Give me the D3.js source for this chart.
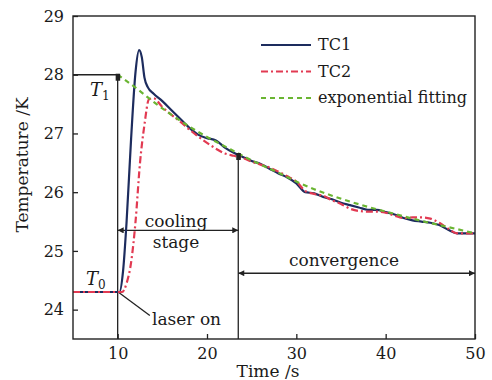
<!DOCTYPE html>
<html>
<head>
<meta charset="utf-8">
<script src="https://cdn.jsdelivr.net/npm/d3@7"></script>
<style>
  body { margin: 0; background: #fff; }
  text { font-family: "DejaVu Serif", "Liberation Serif", serif; fill: #1a1a1a; }
</style>
</head>
<body>
<svg id="chart" width="492" height="380"></svg>
<script>
// values: [time s, temperature K]
var tc1 = [[5,24.3],[10.2,24.3],[10.6,24.65],[11,25.5],[11.5,26.9],[12,28.05],[12.4,28.42],[12.7,28.3],[13,27.95],[13.4,27.78],
  [14,27.68],[15,27.55],[16,27.4],[17,27.25],[18,27.1],[19,26.98],[20,26.92],[21,26.88],[22,26.76],[23,26.67],[24,26.6],
  [25,26.53],[26,26.48],[27,26.4],[28,26.32],[29,26.25],[30,26.15],[31,26.0],[32,25.98],[33,25.92],[34,25.88],[35,25.82],
  [36,25.78],[37,25.74],[38,25.7],[39,25.7],[40,25.66],[41,25.62],[42,25.56],[43,25.52],[44,25.5],[45,25.48],[46,25.44],
  [47,25.36],[48,25.3],[49,25.3],[50,25.3]];
var tc2 = [[5,24.3],[10.5,24.3],[11,24.45],[11.5,24.8],[12,25.5],[12.5,26.5],[13,27.15],[13.5,27.58],[14,27.6],[15,27.45],
  [16,27.32],[17,27.2],[18,27.07],[19,26.95],[20,26.84],[21,26.74],[22,26.66],[23,26.62],[24,26.58],[25,26.52],[26,26.47],
  [27,26.42],[28,26.35],[29,26.27],[30,26.18],[31,26.02],[32,25.97],[33,25.94],[34,25.86],[35,25.8],[36,25.72],[37,25.68],
  [38,25.67],[39,25.67],[40,25.65],[41,25.6],[42,25.56],[43,25.57],[44,25.57],[45,25.55],[46,25.48],[47,25.38],[48,25.3],
  [49,25.3],[50,25.3]];
var fit = [[10,28.0],[12,27.78],[14,27.54],[16,27.32],[18,27.12],[20,26.94],[22,26.78],[24,26.62],[26,26.47],[28,26.33],
  [30,26.18],[32,26.05],[34,25.94],[36,25.84],[38,25.75],[40,25.67],[42,25.59],[44,25.51],[46,25.44],[48,25.37],[50,25.3]];
var xTicks = [10, 20, 30, 40, 50];
var yTicks = [24, 25, 26, 27, 28, 29];
var legendNames = ["TC1", "TC2", "exponential fitting"];

var svg = d3.select("#chart");
var x = d3.scaleLinear().domain([5, 50]).range([73, 475]);
var y = d3.scaleLinear().domain([23.5, 29]).range([339, 16]);

var colors = ["#1d2c5e", "#e23a52", "#6ab532"];
var dashes = [null, "7,3,2,3", "5,4"];

// arrow heads
var defs = svg.append("defs");
defs.append("marker").attr("id","ah").attr("viewBox","0 0 10 10").attr("refX",10).attr("refY",5)
  .attr("markerWidth",9).attr("markerHeight",6).attr("orient","auto-start-reverse").attr("markerUnits","userSpaceOnUse")
  .append("path").attr("d","M0,0L10,5L0,10Z").attr("fill","#222");

// axes (ticks inward)
var gx = svg.append("g").attr("transform","translate(0,339)")
  .call(d3.axisBottom(x).tickValues(xTicks).tickFormat(d3.format("d")).tickSize(-5).tickSizeOuter(0).tickPadding(9));
var gy = svg.append("g").attr("transform","translate(73,0)")
  .call(d3.axisLeft(y).tickValues(yTicks).tickFormat(d3.format("d")).tickSize(-5).tickSizeOuter(0).tickPadding(9));
[gx, gy].forEach(function(g){
  g.select(".domain").remove();
  g.selectAll("line").attr("stroke","#222").attr("stroke-width",1.3);
  g.selectAll("text").attr("font-size",16).attr("font-family","DejaVu Serif").attr("fill","#1a1a1a");
});

// annotation lines
var ann = svg.append("g").attr("stroke","#222").attr("stroke-width",1.3).attr("fill","none");
ann.append("line").attr("x1",x(5)).attr("x2",x(10)).attr("y1",y(28)).attr("y2",y(28));
ann.append("line").attr("x1",x(10)).attr("x2",x(10)).attr("y1",y(28)).attr("y2",y(23.5));
ann.append("line").attr("x1",x(23.5)).attr("x2",x(23.5)).attr("y1",y(26.65)).attr("y2",y(23.5));
ann.append("line").attr("x1",x(10)).attr("x2",x(23.5)).attr("y1",y(25.35)).attr("y2",y(25.35))
  .attr("marker-start","url(#ah)").attr("marker-end","url(#ah)");
ann.append("line").attr("x1",x(23.5)).attr("x2",x(50)).attr("y1",y(24.62)).attr("y2",y(24.62))
  .attr("marker-start","url(#ah)").attr("marker-end","url(#ah)");
ann.append("line").attr("x1",x(10.05)).attr("x2",x(13.6)).attr("y1",y(24.3)).attr("y2",y(23.9));

// curves
var line = d3.line().x(function(d){ return x(d[0]); }).y(function(d){ return y(d[1]); }).curve(d3.curveMonotoneX);
[tc1, tc2, fit].forEach(function(s, i){
  svg.append("path").datum(s).attr("d", line).attr("fill","none")
    .attr("stroke", colors[i]).attr("stroke-width", 2.2)
    .attr("stroke-dasharray", dashes[i]);
});

// small markers at T1 and the cooling end
svg.append("rect").attr("x",x(10)-2).attr("y",y(28)-1).attr("width",4.5).attr("height",7).attr("fill","#222");
svg.append("rect").attr("x",x(23.5)-2).attr("y",y(26.65)-1).attr("width",4.5).attr("height",7).attr("fill","#222");

// frame
svg.append("rect").attr("x",73).attr("y",16).attr("width",402).attr("height",323)
  .attr("fill","none").attr("stroke","#222").attr("stroke-width",1.4);

// labels
function tLabel(px, py, sub){
  var t = svg.append("text").attr("x",px).attr("y",py).attr("font-size",18);
  t.append("tspan").attr("font-style","italic").text("T");
  t.append("tspan").attr("font-size",12).attr("dy",4).text(sub);
}
tLabel(90, 96, "1");
tLabel(86, 285, "0");

svg.append("text").attr("x",152).attr("y",325).attr("font-size",17).text("laser on");
svg.append("text").attr("x",176).attr("y",227).attr("font-size",17).attr("text-anchor","middle").text("cooling");
svg.append("text").attr("x",176).attr("y",248).attr("font-size",17).attr("text-anchor","middle").text("stage");
svg.append("text").attr("x",344).attr("y",266).attr("font-size",17).attr("text-anchor","middle").text("convergence");

svg.append("text").attr("x",268).attr("y",377).attr("font-size",17).attr("text-anchor","middle").text("Time /s");
svg.append("text").attr("transform","translate(28,165) rotate(-90)").attr("font-size",17)
  .attr("text-anchor","middle").text("Temperature /K");

// legend
var leg = svg.append("g");
legendNames.forEach(function(n, i){
  var ly = 45 + i * 26.5;
  leg.append("line").attr("x1",261).attr("x2",311).attr("y1",ly).attr("y2",ly)
    .attr("stroke",colors[i]).attr("stroke-width",2.2).attr("stroke-dasharray",dashes[i]);
  leg.append("text").attr("x",318).attr("y",ly+5).attr("font-size",16).text(n);
});
</script>
</body>
</html>
